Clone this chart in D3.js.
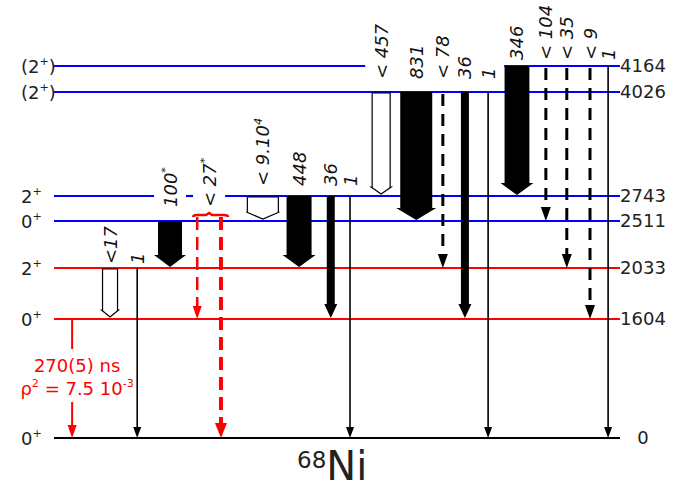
<!DOCTYPE html>
<html>
<head>
<meta charset="utf-8">
<script src="https://cdn.jsdelivr.net/npm/d3@7"></script>
<style>
body { margin: 0; background: #fff; }
text { font-family: "DejaVu Sans", sans-serif; }
</style>
</head>
<body>
<script>
// level scheme of 68Ni, energies in keV
var levelEnergy = [0, 1604, 2033, 2511, 2743, 4026, 4164];
var levelSpin   = ["0^{+}", "0^{+}", "2^{+}", "0^{+}", "2^{+}", "(2^{+})", "(2^{+})"];
var levelGroup  = ["ground", "red", "red", "blue", "blue", "blue", "blue"];

// transitions (from -> to), relative intensities
var trFrom  = [1604, 2033, 2033, 2511, 2511, 2511, 2743, 2743, 2743, 2743, 4026, 4026, 4026, 4026, 4026, 4164, 4164, 4164, 4164, 4164];
var trTo    = [0, 1604, 0, 2033, 1604, 0, 2511, 2033, 1604, 0, 2743, 2511, 2033, 1604, 0, 2743, 2511, 2033, 1604, 0];
var trInt   = [0, 17, 1, 100, 27, 27, 90000, 448, 36, 1, 457, 831, 78, 36, 1, 346, 104, 35, 9, 1];
var trLabel = ["", "<17", "1", "100^{*}", "", "", "< 9.10^{4}", "448", "36", "1", "< 457", "831", "< 78", "36", "1", "346", "< 104", "< 35", "< 9", "1"];
var trKind  = ["e0", "open", "solid", "solid", "e0dash", "e0dash", "open", "solid", "solid", "solid", "open", "solid", "dashed", "solid", "solid", "solid", "dashed", "dashed", "dashed", "solid"];
// horizontal slot of each transition (0..100 across the level lines)
var trSlot  = [3.2, 9.9, 14.7, 20.5, 25.3, 29.5, 36.9, 43.3, 48.9, 52.3, 57.8, 64.0, 68.7, 72.6, 76.7, 81.8, 86.9, 90.6, 94.7, 97.9];

var e0Text = ["270(5) ns", "\u03c1^{2} = 7.5 10^{-3}"];
var e0Limit = "< 27^{*}";

var svg = d3.select('body').append('svg')
  .attr('width', 691)
  .attr('height', 485);

var x = d3.scaleLinear().domain([0, 100]).range([54, 620]);
// schematic (not to scale) energy axis
var y = d3.scaleLinear().domain(levelEnergy).range([438, 319, 268, 221, 196, 92, 66]);
var color = d3.scaleOrdinal().domain(["ground", "red", "blue"]).range(["#000", "#ff0000", "#0000ff"]);
var solidW = d3.scaleLog().domain([1, 36, 100, 448, 831]).range([1.5, 8, 24, 25, 32]);
var openW = d3.scaleLog().domain([17, 457, 90000]).range([15, 18, 31]);
var labelGap = d3.scaleOrdinal().domain([2033, 2511, 2743, 4026, 4164]).range([4, 14, 10, 13, 6]);

var gLevels = svg.append('g');
var gArrows = svg.append('g');
var gLabels = svg.append('g');

// text with ^{..} superscripts
function rich(sel, s, fs) {
  var up = false;
  s.split(/(\^\{[^}]*\})/).forEach(function(p) {
    if (!p) return;
    if (p.charAt(0) === '^') {
      sel.append('tspan').attr('dy', -0.42 * fs).attr('font-size', 0.62 * fs).text(p.slice(2, -1));
      up = true;
    } else {
      var t = sel.append('tspan').text(p);
      if (up) t.attr('dy', 0.42 * fs);
      up = false;
    }
  });
}

var gaps = levelEnergy.map(function() { return []; });

function addLabel(cx, y0, str) {
  var t = gLabels.append('text')
    .attr('transform', 'translate(' + (cx + 6.5) + ',' + y0 + ') rotate(-90)')
    .attr('font-size', 18)
    .attr('font-style', 'italic')
    .attr('fill', '#111');
  rich(t, str, 18);
  var len = t.node().getComputedTextLength();
  levelEnergy.forEach(function(e, j) {
    var ly = y(e);
    if (ly < y0 && ly > y0 - len - 2) gaps[j].push([cx - 16, cx + 16]);
  });
}

trLabel.forEach(function(l, i) {
  if (l) addLabel(x(trSlot[i]), y(trFrom[i]) - labelGap(trFrom[i]), l);
});
var bx = (x(trSlot[4]) + x(trSlot[5])) / 2;
addLabel(bx, y(2511) - labelGap(2511), e0Limit);

// level lines, cut where a label crosses them
levelEnergy.forEach(function(e, j) {
  var g = gaps[j].sort(function(a, b) { return a[0] - b[0]; });
  var merged = [];
  g.forEach(function(d) {
    var last = merged[merged.length - 1];
    if (last && d[0] <= last[1] + 6) last[1] = Math.max(last[1], d[1]);
    else merged.push([d[0], d[1]]);
  });
  var segs = [], start = x(0);
  merged.forEach(function(d) { segs.push([start, d[0]]); start = d[1]; });
  segs.push([start, x(100)]);
  gLevels.selectAll(null)
    .data(segs)
    .enter().append('line')
      .attr('x1', function(d) { return d[0]; })
      .attr('x2', function(d) { return d[1]; })
      .attr('y1', y(e))
      .attr('y2', y(e))
      .style('stroke', color(levelGroup[j]))
      .style('stroke-width', 2.2);
});

// level labels
gLabels.selectAll('.spin')
  .data(levelEnergy)
  .enter().append('text')
    .attr('class', 'spin')
    .attr('x', 21)
    .attr('y', function(d) { return y(d) + 7; })
    .attr('font-size', 18)
    .attr('fill', '#222')
    .each(function(d, i) { rich(d3.select(this), levelSpin[i], 18); });

gLabels.selectAll('.energy')
  .data(levelEnergy)
  .enter().append('text')
    .attr('class', 'energy')
    .attr('x', 643)
    .attr('y', function(d) { return y(d) + 6; })
    .attr('text-anchor', 'middle')
    .attr('font-size', 18)
    .attr('fill', '#222')
    .text(function(d) { return d; });

function tri(cx, tip, w, l) {
  return 'M' + (cx - w / 2) + ',' + (tip - l) + 'L' + cx + ',' + tip + 'L' + (cx + w / 2) + ',' + (tip - l) + 'Z';
}
function fat(cx, y1, tip, w, hw, hl) {
  return 'M' + (cx - w / 2) + ',' + y1 + 'L' + (cx - w / 2) + ',' + (tip - hl) +
    'L' + (cx - hw / 2) + ',' + (tip - hl) + 'L' + cx + ',' + tip +
    'L' + (cx + hw / 2) + ',' + (tip - hl) + 'L' + (cx + w / 2) + ',' + (tip - hl) +
    'L' + (cx + w / 2) + ',' + y1 + 'Z';
}

trKind.forEach(function(k, i) {
  var cx = x(trSlot[i]), y1 = y(trFrom[i]), y2 = y(trTo[i]);
  if (k === 'solid' && trInt[i] <= 1) {
    gArrows.append('line').attr('x1', cx).attr('x2', cx).attr('y1', y1).attr('y2', y2 - 8)
      .style('stroke', '#000').style('stroke-width', 1.6);
    gArrows.append('path').attr('d', tri(cx, y2, 8, 11)).style('fill', '#000');
  } else if (k === 'solid') {
    var w = solidW(trInt[i]);
    gArrows.append('path').attr('d', fat(cx, y1, y2 - 1, w, w + (w < 12 ? 5 : 8), w < 12 ? 14 : 12))
      .style('fill', '#000');
  } else if (k === 'open') {
    var ow = openW(trInt[i]);
    gArrows.append('path').attr('d', fat(cx, y1 + 1, y2 - 2, ow, ow + 2, 7))
      .style('fill', '#fff').style('stroke', '#000').style('stroke-width', 1.2);
  } else if (k === 'dashed') {
    gArrows.append('line').attr('x1', cx).attr('x2', cx).attr('y1', y1 + 2).attr('y2', y2 - 12)
      .style('stroke', '#000').style('stroke-width', 3).style('stroke-dasharray', '12,8');
    gArrows.append('path').attr('d', tri(cx, y2, 10, 14)).style('fill', '#000');
  } else if (k === 'e0dash') {
    var thick = trTo[i] === 0;
    gArrows.append('line').attr('x1', cx).attr('x2', cx).attr('y1', y1 - 4).attr('y2', y2 - 12)
      .style('stroke', '#ff0000').style('stroke-width', thick ? 4 : 2.5).style('stroke-dasharray', '13,7');
    gArrows.append('path').attr('d', tri(cx, y2, thick ? 12 : 9, thick ? 15 : 13)).style('fill', '#ff0000');
  } else if (k === 'e0') {
    var t1 = 372, t2 = 395;
    gArrows.append('line').attr('x1', cx).attr('x2', cx).attr('y1', y1).attr('y2', t1 - 23)
      .style('stroke', '#ff0000').style('stroke-width', 2);
    gArrows.append('line').attr('x1', cx).attr('x2', cx).attr('y1', t2 + 7).attr('y2', y2 - 10)
      .style('stroke', '#ff0000').style('stroke-width', 2);
    gArrows.append('path').attr('d', tri(cx, y2, 9, 13)).style('fill', '#ff0000');
    [t1, t2].forEach(function(ty, j) {
      var t = gLabels.append('text')
        .attr('x', cx + 5).attr('y', ty)
        .attr('text-anchor', 'middle')
        .attr('font-size', 18)
        .attr('fill', '#ff0000');
      rich(t, e0Text[j], 18);
    });
  }
});

// bracket joining the two E0 limits
var bl = x(trSlot[4]) - 4, br = x(trSlot[5]) + 7, by = y(2511) - 6;
gArrows.append('path')
  .attr('d', 'M' + bl + ',' + (by + 2) + 'Q' + bl + ',' + by + ' ' + (bl + 4) + ',' + by +
    'L' + (bx - 3) + ',' + by + 'L' + bx + ',' + (by - 2) + 'L' + (bx + 3) + ',' + by +
    'L' + (br - 4) + ',' + by + 'Q' + br + ',' + by + ' ' + br + ',' + (by + 2))
  .style('fill', 'none').style('stroke', '#ff0000').style('stroke-width', 2.5);

// nucleus name
var title = svg.append('text').attr('x', 297).attr('y', 480).attr('fill', '#222');
title.append('tspan').attr('font-size', 23).attr('dy', -12).text('68');
title.append('tspan').attr('font-size', 40).attr('dy', 12).text('Ni');
</script>
</body>
</html>
